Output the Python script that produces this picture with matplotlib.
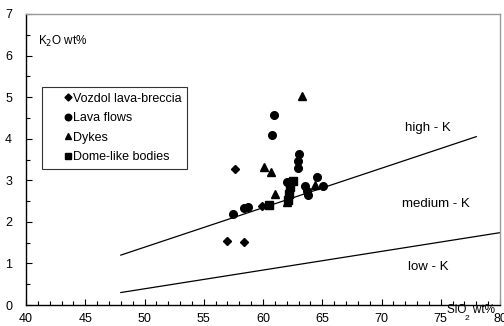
import matplotlib
matplotlib.use("Agg")
import matplotlib.pyplot as plt
from matplotlib.ticker import MultipleLocator

plt.rcParams['font.family'] = ['Liberation Sans', 'DejaVu Sans']

# Data
vozdol_x = [57.6, 57.0, 58.4, 59.9]
vozdol_y = [3.27, 1.54, 1.51, 2.39]

lava_x = [60.96, 60.73, 63.04, 62.93, 62.93, 57.5, 58.4, 58.7, 62.0, 64.53, 63.54, 63.7, 63.8, 65.1]
lava_y = [4.58, 4.08, 3.63, 3.46, 3.30, 2.20, 2.34, 2.36, 2.95, 3.08, 2.87, 2.74, 2.64, 2.87]

dykes_x = [63.3, 60.08, 60.7, 60.98, 64.4, 62.0]
dykes_y = [5.03, 3.33, 3.20, 2.66, 2.88, 2.47]

dome_x = [60.5, 62.1, 62.2, 62.3, 62.5]
dome_y = [2.40, 2.52, 2.68, 2.84, 2.99]

high_med_x = [48, 78]
high_med_y = [1.2, 4.05]
med_low_x = [48, 80]
med_low_y = [0.3, 1.74]

W, H = 504, 326
fig = plt.figure(figsize=(W / 100, H / 100), dpi=100)
ax = fig.add_axes([26 / W, (H - 305) / H, (500 - 26) / W, (305 - 14) / H])

ax.plot(high_med_x, high_med_y, color='black', lw=0.9)
ax.plot(med_low_x, med_low_y, color='black', lw=0.9)

ms = 5.5
ax.plot(vozdol_x, vozdol_y, 'D', color='black', ms=4.2, ls='none', label='Vozdol lava-breccia')
ax.plot(lava_x, lava_y, 'o', color='black', ms=ms, ls='none', label='Lava flows')
ax.plot(dykes_x, dykes_y, '^', color='black', ms=ms, ls='none', label='Dykes')
ax.plot(dome_x, dome_y, 's', color='black', ms=5.2, ls='none', label='Dome-like bodies')

ax.set_xlim(40, 80)
ax.set_ylim(0, 7)
ax.xaxis.set_major_locator(MultipleLocator(5))
ax.xaxis.set_minor_locator(MultipleLocator(1))
ax.yaxis.set_major_locator(MultipleLocator(1))
ax.yaxis.set_minor_locator(MultipleLocator(0.5))
ax.tick_params(which='both', direction='in', labelsize=9, width=0.8)
ax.tick_params(which='major', length=4)
ax.tick_params(which='minor', length=3)
ax.tick_params(axis='x', pad=6)
ax.tick_params(axis='y', pad=10)

for s in ['left', 'bottom']:
    ax.spines[s].set_color('black')
    ax.spines[s].set_linewidth(1.0)
for s in ['top', 'right']:
    ax.spines[s].set_color('#999999')
    ax.spines[s].set_linewidth(1.0)

def px(x, y):
    return (x / W, 1 - y / H)

fig.text(*px(38, 41), 'K$_2$O wt%', fontsize=8.5, ha='left', va='center')
fig.text(*px(447, 310), 'SiO  wt%', fontsize=8.5, ha='left', va='center')
fig.text(*px(467, 318), '2', fontsize=6, ha='center', va='center')

fig.text(*px(428, 128), 'high - K', fontsize=9.5, ha='center', va='center')
fig.text(*px(436, 204), 'medium - K', fontsize=9.5, ha='center', va='center')
fig.text(*px(428, 267), 'low - K', fontsize=9.5, ha='center', va='center')

leg = ax.legend(loc='upper left', bbox_to_anchor=(42 / W, 1 - 87 / H),
                bbox_transform=fig.transFigure, fontsize=9, frameon=True,
                fancybox=False, edgecolor='black', handlelength=3.2,
                handletextpad=-1.2, borderpad=0.45, labelspacing=0.6,
                markerscale=0.85, borderaxespad=0)
leg.get_frame().set_linewidth(0.8)

fig.savefig('out.png', dpi=100)
